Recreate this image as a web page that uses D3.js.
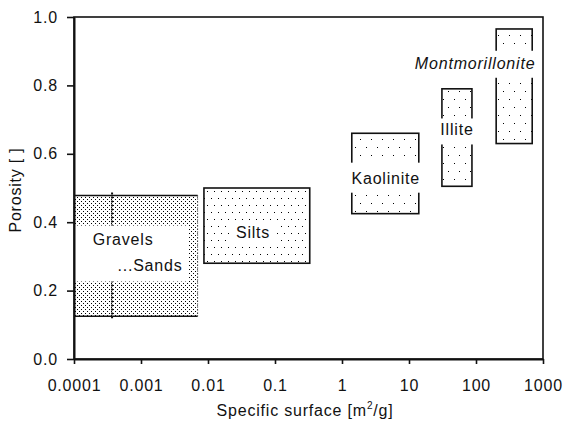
<!DOCTYPE html>
<html>
<head>
<meta charset="utf-8">
<script src="https://cdn.jsdelivr.net/npm/d3@7"></script>
<style>
  html, body { margin: 0; padding: 0; background: #fff; }
  svg { display: block; }
  text { font-family: "Liberation Sans", Arial, sans-serif; font-size: 16px; letter-spacing: 0.8px; fill: #111; }
</style>
</head>
<body>
<svg id="chart" width="564" height="423"></svg>
<script>
// Soil classes: specific surface range [m2/g] and porosity range
const classes       = ["Gravels/Sands", "Silts", "Kaolinite", "Illite", "Montmorillonite"];
const surfaceMin    = [0.0001, 0.0087, 1.4, 31, 200];
const surfaceMax    = [0.007, 0.33, 14, 87, 690];
const porosityMin   = [0.125, 0.28, 0.425, 0.505, 0.63];
const porosityMax   = [0.478, 0.50, 0.66, 0.79, 0.965];
const patterns      = ["dense", "medium", "sparse", "sparse", "sparse"];

// Gravel / sand divide inside the first box
const gravelSandDivide = 0.00037;

// Label lines for each class: text, specific surface and porosity at the label centre
const labelClass    = [0, 0, 1, 2, 3, 4];
const labelText     = ["Gravels", "...Sands", "Silts", "Kaolinite", "Illite", "Montmorillonite"];
const labelSurface  = [0.00054, 0.00136, 0.047, 4.5, 52, 97];
const labelPorosity = [0.351, 0.275, 0.371, 0.529, 0.67, 0.865];
const labelItalic   = [false, false, false, false, false, true];

// Axis ticks
const xTickValues = [0.0001, 0.001, 0.01, 0.1, 1, 10, 100, 1000];
const xTickLabels = ["0.0001", "0.001", "0.01", "0.1", "1", "10", "100", "1000"];
const yTickValues = [0, 0.2, 0.4, 0.6, 0.8, 1.0];
const yTickLabels = ["0.0", "0.2", "0.4", "0.6", "0.8", "1.0"];

const svg = d3.select("#chart");
const plotLeft = 74, plotRight = 543, plotTop = 17, plotBottom = 359;

const x = d3.scaleLog().domain([0.0001, 1000]).range([plotLeft, plotRight]);
const y = d3.scaleLinear().domain([0, 1]).range([plotBottom, plotTop]);

// Dot fills
const defs = svg.append("defs");
function dotPattern(id, w, h, dots) {
  const p = defs.append("pattern").attr("id", id)
    .attr("patternUnits", "userSpaceOnUse").attr("width", w).attr("height", h);
  dots.forEach(([dx, dy]) => p.append("rect").attr("x", dx).attr("y", dy)
    .attr("width", 1).attr("height", 1).attr("fill", "#000"));
}
dotPattern("dense", 4, 4, [[1, 1], [3, 3]]);
dotPattern("medium", 7, 14, [[1, 2], [4, 9]]);
dotPattern("sparse", 11, 16, [[3, 3], [8, 11]]);

// Plot frame
svg.append("rect")
  .attr("x", plotLeft).attr("y", plotTop)
  .attr("width", plotRight - plotLeft).attr("height", plotBottom - plotTop)
  .attr("fill", "none").attr("stroke", "#111").attr("stroke-width", 1.6);

// Class boxes
const boxes = svg.append("g");
classes.forEach((c, i) => {
  const x0 = x(surfaceMin[i]), x1 = x(surfaceMax[i]);
  const y0 = y(porosityMax[i]), y1 = y(porosityMin[i]);
  boxes.append("rect")
    .attr("x", x0).attr("y", y0).attr("width", x1 - x0).attr("height", y1 - y0)
    .attr("fill", `url(#${patterns[i]})`);
  if (i === 0) {
    // gravel/sand box: solid top and bottom, dotted right edge
    boxes.append("path").attr("d", `M${x0},${y0}H${x1}M${x0},${y1}H${x1}`)
      .attr("stroke", "#111").attr("stroke-width", 1.6).attr("fill", "none");
    boxes.append("line").attr("x1", x1).attr("x2", x1).attr("y1", y0).attr("y2", y1)
      .attr("stroke", "#111").attr("stroke-width", 1).attr("stroke-dasharray", "1,2");
    boxes.append("line")
      .attr("x1", x(gravelSandDivide)).attr("x2", x(gravelSandDivide))
      .attr("y1", y0 - 3).attr("y2", y1 + 2)
      .attr("stroke", "#111").attr("stroke-width", 2).attr("stroke-dasharray", "2,2");
  } else {
    boxes.append("rect")
      .attr("x", x0).attr("y", y0).attr("width", x1 - x0).attr("height", y1 - y0)
      .attr("fill", "none").attr("stroke", "#111").attr("stroke-width", 1.6);
  }
});

// Labels with a white band behind them; clay labels cut right through the box edges
const labels = svg.append("g");
const bandPad = [[null, 6, 9, 8], [6, 6, 6, 6], [2, 2, 11, 6], [2, 2, 7, 6], [2, 2, 8, 6]]; // left, right, top, bottom
const cutsEdges = [false, false, true, true, true];
const texts = labelText.map((t, i) => labels.append("text")
  .attr("x", x(labelSurface[i])).attr("y", y(labelPorosity[i]))
  .attr("dy", "0.35em").attr("text-anchor", "middle")
  .style("font-style", labelItalic[i] ? "italic" : "normal")
  .text(t));
classes.forEach((c, ci) => {
  const bbs = texts.filter((t, i) => labelClass[i] === ci).map(t => t.node().getBBox());
  let bx0 = d3.min(bbs, b => b.x), bx1 = d3.max(bbs, b => b.x + b.width);
  const by0 = d3.min(bbs, b => b.y), by1 = d3.max(bbs, b => b.y + b.height);
  if (cutsEdges[ci]) {
    bx0 = Math.min(bx0, x(surfaceMin[ci]));
    bx1 = Math.max(bx1, x(surfaceMax[ci]));
  }
  const p = bandPad[ci];
  const l = p[0] === null ? x(surfaceMin[ci]) + 1 : bx0 - p[0];
  labels.insert("rect", "text")
    .attr("x", l).attr("y", by0 - p[2] + 4)
    .attr("width", bx1 + p[1] - l).attr("height", by1 - by0 + p[2] + p[3] - 4)
    .attr("fill", "#fff");
});

// Axes
const xAxis = svg.append("g").attr("transform", `translate(0,${plotBottom})`)
  .call(d3.axisBottom(x).tickValues(xTickValues)
    .tickFormat((d, i) => xTickLabels[i]).tickSize(5).tickSizeOuter(0).tickPadding(16));
const yAxis = svg.append("g").attr("transform", `translate(${plotLeft},0)`)
  .call(d3.axisLeft(y).tickValues(yTickValues)
    .tickFormat((d, i) => yTickLabels[i]).tickSize(7).tickSizeOuter(0).tickPadding(9));
[xAxis, yAxis].forEach(a => {
  a.attr("font-family", null).attr("font-size", null);
  a.select(".domain").attr("stroke", "#111").attr("stroke-width", 2);
  a.selectAll(".tick line").attr("stroke", "#111").attr("stroke-width", 1.6);
  a.selectAll(".tick text").style("fill", "#111");
});

// Axis titles
const xt = svg.append("text").attr("x", 305).attr("y", 416).attr("text-anchor", "middle");
xt.append("tspan").text("Specific surface [m");
xt.append("tspan").attr("dy", -7).style("font-size", "10px").text("2");
xt.append("tspan").attr("dy", 7).text("/g]");

svg.append("text")
  .attr("transform", "translate(21,190) rotate(-90)")
  .attr("text-anchor", "middle")
  .text("Porosity [ ]");
</script>
</body>
</html>
